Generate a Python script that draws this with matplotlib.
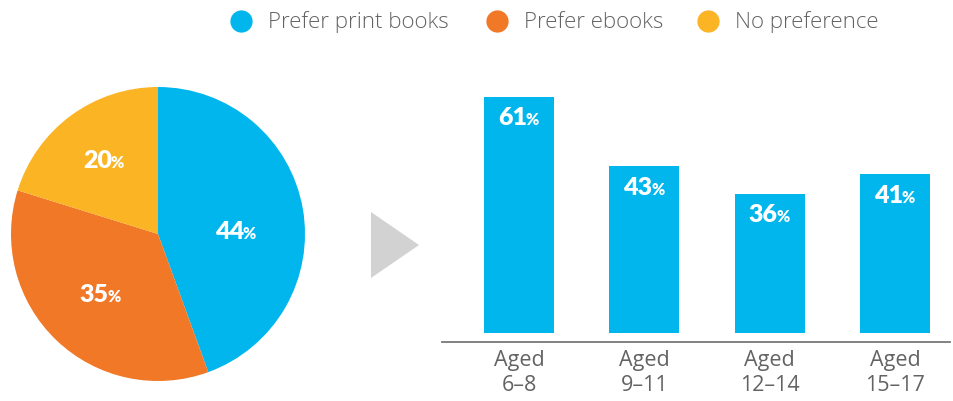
import numpy as np
import matplotlib
matplotlib.use("Agg")
import matplotlib.pyplot as plt
from matplotlib.lines import Line2D
from matplotlib.patches import Polygon

# data
pie_labels = ['Prefer print books', 'Prefer ebooks', 'No preference']
pie_values = [44, 35, 20]
pie_colors = ['#00B6EC', '#F07826', '#FBB424']

age_groups = ['Aged\n6\u20138', 'Aged\n9\u201311', 'Aged\n12\u201314', 'Aged\n15\u201317']
print_share = [61, 43, 36, 41]

W, H = 954, 401
fig = plt.figure(figsize=(W / 100, H / 100), dpi=100)
grey = '#636363'
num_font = 'Lato'
txt_font = 'Open Sans'


def px(x, y):
    # pixel (from top-left) -> figure fraction
    return x / W, 1 - y / H


def pct_label(ax, x, y, value, size=18, small=11.5):
    # big number + small % sign, centered on (x, y) in data coords
    r = fig.canvas.get_renderer()
    t1 = ax.text(x, y, str(value), ha='left', va='baseline', color='white',
                 fontsize=size, fontweight='heavy', family=num_font)
    t2 = ax.text(x, y, '%', ha='left', va='baseline', color='white',
                 fontsize=small, fontweight='heavy', family=num_font)
    w1 = t1.get_window_extent(r).width
    w2 = t2.get_window_extent(r).width
    hgt = t1.get_window_extent(r).height * 0.70
    x0, y0 = ax.transData.transform((x, y))
    start = x0 - (w1 + w2) / 2
    inv = ax.transData.inverted()
    t1.set_position(inv.transform((start, y0 - hgt / 2)))
    t2.set_position(inv.transform((start + w1 - 1, y0 - hgt / 2)))


# pie
cx, cy, rad = 158, 234, 147
l, b = px(cx - rad, cy + rad)
axp = fig.add_axes([l, b, 2 * rad / W, 2 * rad / H])
wedges, _ = axp.pie(pie_values, colors=pie_colors, startangle=90,
                    counterclock=False, radius=1, frame=False,
                    wedgeprops=dict(linewidth=0))
axp.set_xlim(-1, 1)
axp.set_ylim(-1, 1)
axp.set_aspect('auto')
axp.axis('off')
label_r = [0.53, 0.57, 0.62]
label_shift = [-8, 0, 0]
for w, v, lr, sh in zip(wedges, pie_values, label_r, label_shift):
    ang = np.deg2rad((w.theta1 + w.theta2) / 2 + sh)
    pct_label(axp, lr * np.cos(ang), lr * np.sin(ang), v)

# arrow
tri = Polygon([px(371, 212), px(371, 278), px(419, 245)], closed=True,
              transform=fig.transFigure, facecolor='#D2D2D2', edgecolor='none')
fig.add_artist(tri)

# bars
l, b = px(442, 342)
axb = fig.add_axes([l, b, 508 / W, 282 / H])
xpos = np.arange(len(print_share))
axb.bar(xpos, print_share, width=0.56, color=pie_colors[0])
axb.set_xlim(-0.615, 3.44)
axb.set_ylim(-2.33, 70.5)
for s in ['top', 'right', 'left']:
    axb.spines[s].set_visible(False)
axb.spines['bottom'].set_color('#777777')
axb.spines['bottom'].set_linewidth(1.3)
axb.set_yticks([])
axb.set_xticks(xpos)
axb.set_xticklabels(age_groups, fontsize=15.5, color=grey, family=txt_font,
                    linespacing=1.2)
axb.tick_params(axis='x', length=0, pad=6)
for xi, v in zip(xpos, print_share):
    pct_label(axb, xi, v - 5.4, v)

# legend
leg_x = [241, 497, 708]
for x, lab, c in zip(leg_x, pie_labels, pie_colors):
    fx, fy = px(x, 21)
    fig.add_artist(Line2D([fx], [fy], marker='o', markersize=15, color=c,
                          linestyle='none', transform=fig.transFigure))
    tx, ty = px(x + 27, 22)
    fig.text(tx, ty, lab, ha='left', va='center', fontsize=16, color=grey,
             family=txt_font, fontweight='light')

fig.savefig('out.png', dpi=100)
